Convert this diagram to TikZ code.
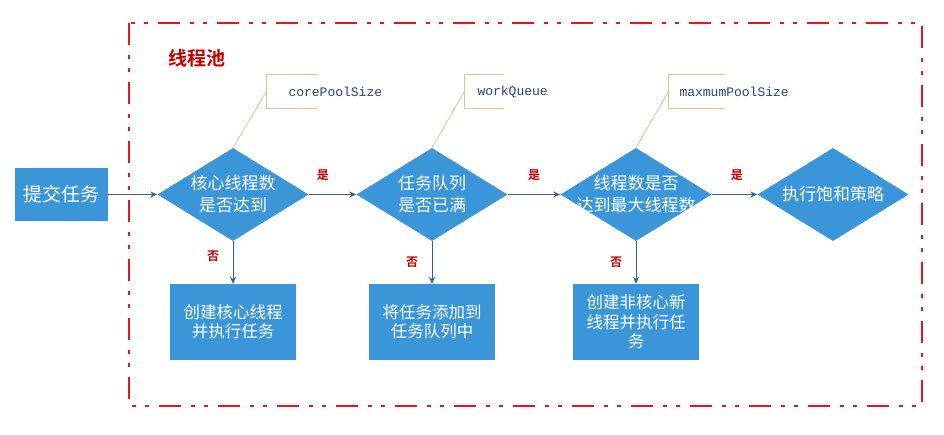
\documentclass[tikz,border=0pt]{standalone}
\usepackage{fontspec}
\setmainfont{Noto Sans CJK SC}
\newfontfamily\cjkbold{Noto Sans CJK SC}[BoldFont={* Bold}]
\setmonofont{Liberation Mono}
\usetikzlibrary{shapes.geometric,arrows.meta}
\definecolor{fillblue}{RGB}{58,150,216}
\definecolor{arrowc}{RGB}{56,98,140}
\definecolor{framered}{RGB}{232,20,30}
\definecolor{darkred}{RGB}{192,0,0}
\definecolor{calltan}{RGB}{218,196,150}
\definecolor{calltext}{RGB}{40,70,110}
\tikzset{
  dec/.style={diamond, fill=fillblue, minimum width=151pt, minimum height=93pt, inner sep=0pt, aspect=1.62},
  dectext/.style={text=white, font=\fontsize{17}{22}\selectfont, align=center, inner sep=0pt},
  procbox/.style={rectangle, fill=fillblue, minimum width=126pt, minimum height=76pt, inner sep=0pt, text=white, font=\fontsize{16.5}{19.5}\selectfont, align=center},
  flow/.style={draw=arrowc, line width=0.9pt, -{Stealth[length=7pt,width=6pt]}},
  yes/.style={text=darkred, font=\cjkbold\bfseries\fontsize{12}{12}\selectfont},
  calllbl/.style={text=calltext, font=\ttfamily\fontsize{13}{13}\selectfont, anchor=west},
  callline/.style={draw=calltan, line width=0.7pt},
}
\begin{document}
\begin{tikzpicture}[x=1pt,y=-1pt]
\useasboundingbox (0,0) rectangle (944,435);
\fill[white] (0,0) rectangle (944,435);
% frame
\draw[framered, line width=2pt, dash pattern=on 22pt off 10pt on 4pt off 9pt on 4pt off 10pt] (129,23) rectangle (922,406);
\node[text=darkred, font=\cjkbold\bfseries\fontsize{19}{19}\selectfont] (title) at (197,58) {线程池};
% nodes
\node[rectangle, fill=fillblue, minimum width=93pt, minimum height=53pt, inner sep=0pt, text=white, font=\fontsize{19}{19}\selectfont] (submit) at (61.5,194.5) {提交任务};
\node[dec] (d1) at (233,194.5) {};
\node[dec] (d2) at (432,194.5) {};
\node[dec] (d3) at (636,194.5) {};
\node[dec] (d4) at (833,194.5) {};
\node[dectext] (t1) at (d1.center) {核心线程数\\是否达到};
\node[dectext] (t2) at (d2.center) {任务队列\\是否已满};
\node[dectext] (t3) at (d3.center) {线程数是否\\达到最大线程数};
\node[dectext] (t4) at (d4.center) {执行饱和策略};
\node[procbox] (b1) at (233,322) {创建核心线程\\并执行任务};
\node[procbox] (b2) at (432,322) {将任务添加到\\任务队列中};
\node[procbox] (b3) at (636,322) {创建非核心新\\线程并执行任\\务};
% arrows
\draw[flow] (submit.east) -- (d1.west);
\draw[flow] (d1.east) -- node[yes, pos=0.3, above=10pt] (y1) {是} (d2.west);
\draw[flow] (d2.east) -- node[yes, pos=0.5, above=10pt] (y2) {是} (d3.west);
\draw[flow] (d3.east) -- node[yes, pos=0.55, above=10pt] (y3) {是} (d4.west);
\draw[flow] (d1.south) -- node[yes, pos=0.35, left=10pt] (n1) {否} (b1.north);
\draw[flow] (d2.south) -- node[yes, pos=0.5, left=10pt] (n2) {否} (b2.north);
\draw[flow] (d3.south) -- node[yes, pos=0.5, left=10pt] (n3) {否} (b3.north);
% callouts
\coordinate (c1a) at (318,74); \coordinate (c1b) at (266,74); \coordinate (c1c) at (266,108); \coordinate (c1d) at (318,108);
\draw[callline] (c1a) -- (c1b) -- (c1c) -- (c1d);
\node[calllbl] (l1) at (285,92) {corePoolSize};
\coordinate (c1m) at (266,92);
\draw[callline] (c1m) -- (d1.north);
\coordinate (c2a) at (504,74); \coordinate (c2b) at (464,74); \coordinate (c2c) at (464,108); \coordinate (c2d) at (504,108);
\draw[callline] (c2a) -- (c2b) -- (c2c) -- (c2d);
\node[calllbl] (l2) at (474,92) {workQueue};
\coordinate (c2m) at (464,92);
\draw[callline] (c2m) -- (d2.north);
\coordinate (c3a) at (725,74); \coordinate (c3b) at (668,74); \coordinate (c3c) at (668,108); \coordinate (c3d) at (725,108);
\draw[callline] (c3a) -- (c3b) -- (c3c) -- (c3d);
\node[calllbl] (l3) at (676,92) {maxmumPoolSize};
\coordinate (c3m) at (668,92);
\draw[callline] (c3m) -- (d3.north);
\end{tikzpicture}
\end{document}
